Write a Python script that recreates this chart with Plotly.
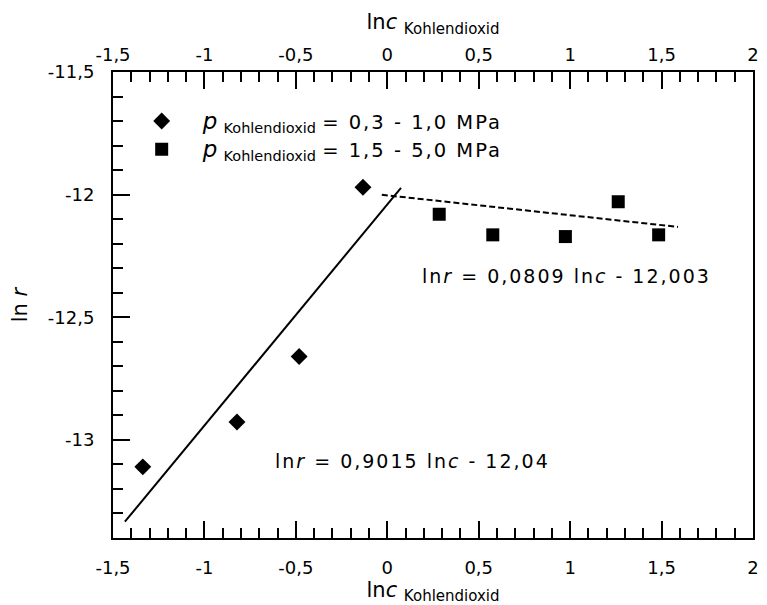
import plotly.graph_objects as go

# Measured points: ln r versus ln c (CO2)
low_p_x = [-1.337, -0.822, -0.482, -0.133]
low_p_y = [-13.11, -12.927, -12.660, -11.970]
high_p_x = [0.284, 0.577, 0.974, 1.263, 1.484]
high_p_y = [-12.080, -12.164, -12.171, -12.029, -12.164]

# Linear fits  ln r = slope * ln c + intercept
low_fit_slope, low_fit_icpt = 0.9015, -12.04
low_fit_x = [-1.435, 0.075]
high_fit_slope, high_fit_icpt = -0.0809, -12.003
high_fit_x = [-0.03, 1.59]

low_name = "0,3 - 1,0 MPa"
high_name = "1,5 - 5,0 MPa"

x_ticks = [-1.5, -1, -0.5, 0, 0.5, 1, 1.5, 2]
x_ticktext = ["-1,5", "-1", "-0,5", "0", "0,5", "1", "1,5", "2"]
y_ticks = [-13, -12.5, -12, -11.5]
y_ticktext = ["-13", "-12,5", "-12", "-11,5"]

FONT = "DejaVu Sans"
SP = "letter-spacing:2px"


def fmt(v, nd):
    return f"{abs(v):.{nd}f}".replace(".", ",")


def legend_label(rng):
    return (f'<span style="font-size:23px"><i>p</i></span> '
            f'<sub><span style="font-size:14.5px">Kohlendioxid</span></sub> '
            f'<span style="{SP}">= {rng}</span>')


fig = go.Figure()

fig.add_trace(go.Scatter(
    x=low_fit_x, y=[low_fit_slope * v + low_fit_icpt for v in low_fit_x],
    mode="lines", line=dict(color="black", width=2), showlegend=False,
    hoverinfo="skip"))
fig.add_trace(go.Scatter(
    x=high_fit_x, y=[high_fit_slope * v + high_fit_icpt for v in high_fit_x],
    mode="lines", line=dict(color="black", width=2, dash="6px,3px"),
    showlegend=False, hoverinfo="skip"))

fig.add_trace(go.Scatter(
    x=low_p_x, y=low_p_y, mode="markers", name=legend_label(low_name),
    marker=dict(symbol="diamond", size=13, color="black")))
fig.add_trace(go.Scatter(
    x=high_p_x, y=high_p_y, mode="markers", name=legend_label(high_name),
    marker=dict(symbol="square", size=13, color="black")))

# invisible trace so the top axis is rendered
fig.add_trace(go.Scatter(x=[low_p_x[0]], y=[low_p_y[0]], xaxis="x2",
                         mode="markers", marker=dict(opacity=0),
                         showlegend=False, hoverinfo="skip"))

x_title = "ln<i>c</i> <sub><span style=\"font-size:15px\">Kohlendioxid</span></sub>"
axis_common = dict(
    range=[-1.5, 2], tickvals=x_ticks, ticktext=x_ticktext,
    ticks="inside", ticklen=17, tickwidth=2, tickcolor="black",
    minor=dict(dtick=0.1, ticks="inside", ticklen=10, tickwidth=2,
               tickcolor="black", tick0=-1.5),
    showline=True, linecolor="black", linewidth=2, showgrid=False,
    zeroline=False, tickfont=dict(family=FONT, size=18, color="black"),
)

fig.update_layout(
    width=767, height=605,
    margin=dict(l=113, r=8, t=72, b=67),
    paper_bgcolor="white", plot_bgcolor="white",
    font=dict(family=FONT, color="black"),
    xaxis=dict(**axis_common, ticklabelstandoff=12,
               title=dict(text=x_title, font=dict(size=21), standoff=4)),
    xaxis2=dict(**axis_common, overlaying="x", side="top", matches="x",
                ticklabelstandoff=2,
                title=dict(text=x_title, font=dict(size=21), standoff=8)),
    yaxis=dict(
        range=[-13.4, -11.5], tickvals=y_ticks, ticktext=y_ticktext,
        ticks="inside", ticklen=17, tickwidth=2, tickcolor="black",
        minor=dict(dtick=0.1, ticks="inside", ticklen=10, tickwidth=2,
                   tickcolor="black", tick0=-13.4),
        showline=True, mirror=True, linecolor="black", linewidth=2,
        showgrid=False, zeroline=False, ticklabelstandoff=13,
        tickfont=dict(family=FONT, size=18, color="black"),
        title=dict(text="ln <i>r</i>", font=dict(size=21), standoff=14)),
    legend=dict(x=0.012, y=0.936, xanchor="left", yanchor="top",
                itemwidth=72, bgcolor="rgba(0,0,0,0)",
                font=dict(family=FONT, size=19.5, color="black")),
    showlegend=True,
)

fig.add_annotation(
    x=-0.626, y=-13.086, xref="x", yref="y", xanchor="left", yanchor="middle",
    showarrow=False, font=dict(family=FONT, size=19, color="black"),
    text=(f'<span style="{SP}">ln<i>r</i> = {fmt(low_fit_slope, 4)} '
          f'ln<i>c</i> - {fmt(low_fit_icpt, 2)}</span>'))
fig.add_annotation(
    x=0.177, y=-12.331, xref="x", yref="y", xanchor="left", yanchor="middle",
    showarrow=False, font=dict(family=FONT, size=19, color="black"),
    text=(f'<span style="{SP}">ln<i>r</i> = {fmt(high_fit_slope, 4)} '
          f'ln<i>c</i> - {fmt(high_fit_icpt, 3)}</span>'))

fig.write_html("out.html")
